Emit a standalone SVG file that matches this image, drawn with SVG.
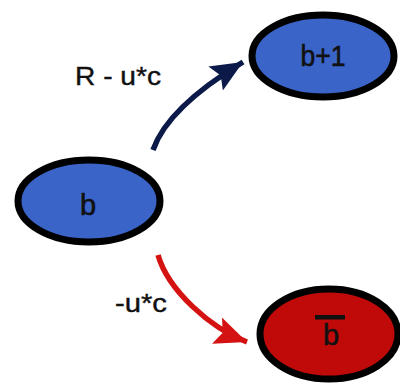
<svg xmlns="http://www.w3.org/2000/svg" width="400" height="386" viewBox="0 0 400 386">
<style>
.node{stroke:#000;stroke-width:7}
.blue{fill:#3a64c8}
.red{fill:#c00a0a}
.lbl{font-family:"Liberation Sans",Arial,sans-serif;font-size:25px;fill:#111;text-anchor:middle;stroke:#111;stroke-width:0.4}
.nl{font-size:29px;stroke-width:0.6}
.edge{fill:none;stroke-width:5.5}
</style>
<defs>
<marker id="hb" markerUnits="userSpaceOnUse" markerWidth="34" markerHeight="30" refX="32" refY="14" orient="auto">
<path d="M0,0 L32,14 L0,28 L6,14 z" fill="#0b1a48"/>
</marker>
<marker id="hr" markerUnits="userSpaceOnUse" markerWidth="34" markerHeight="30" refX="32" refY="14" orient="auto">
<path d="M0,0 L32,14 L0,28 L6,14 z" fill="#d41212"/>
</marker>
</defs>
<rect width="400" height="386" fill="#fff"/>
<g id="connectors">
<path class="edge" d="M153,150 C165,115 205,85 243,62" stroke="#0b1a48" marker-end="url(#hb)"/>
<path class="edge" d="M158,255 C168,290 210,328 247,342" stroke="#d41212" marker-end="url(#hr)"/>
<text class="lbl" x="118" y="85" textLength="86" lengthAdjust="spacingAndGlyphs">R - u*c</text>
<text class="lbl" x="141" y="312" textLength="52" lengthAdjust="spacingAndGlyphs">-u*c</text>
</g>
<g id="node-b1">
<ellipse class="node blue" cx="323" cy="56" rx="71" ry="41"/>
<text class="lbl nl" x="323" y="66" textLength="45" lengthAdjust="spacingAndGlyphs">b+1</text>
</g>
<g id="node-b">
<ellipse class="node blue" cx="89" cy="201" rx="71" ry="41"/>
<text class="lbl nl" x="88" y="215">b</text>
</g>
<g id="node-bbar">
<ellipse class="node red" cx="329" cy="334" rx="69" ry="45"/>
<rect x="315" y="315" width="30" height="4.5" fill="#111"/>
<text class="lbl nl" x="331" y="345">b</text>
</g>
</svg>
